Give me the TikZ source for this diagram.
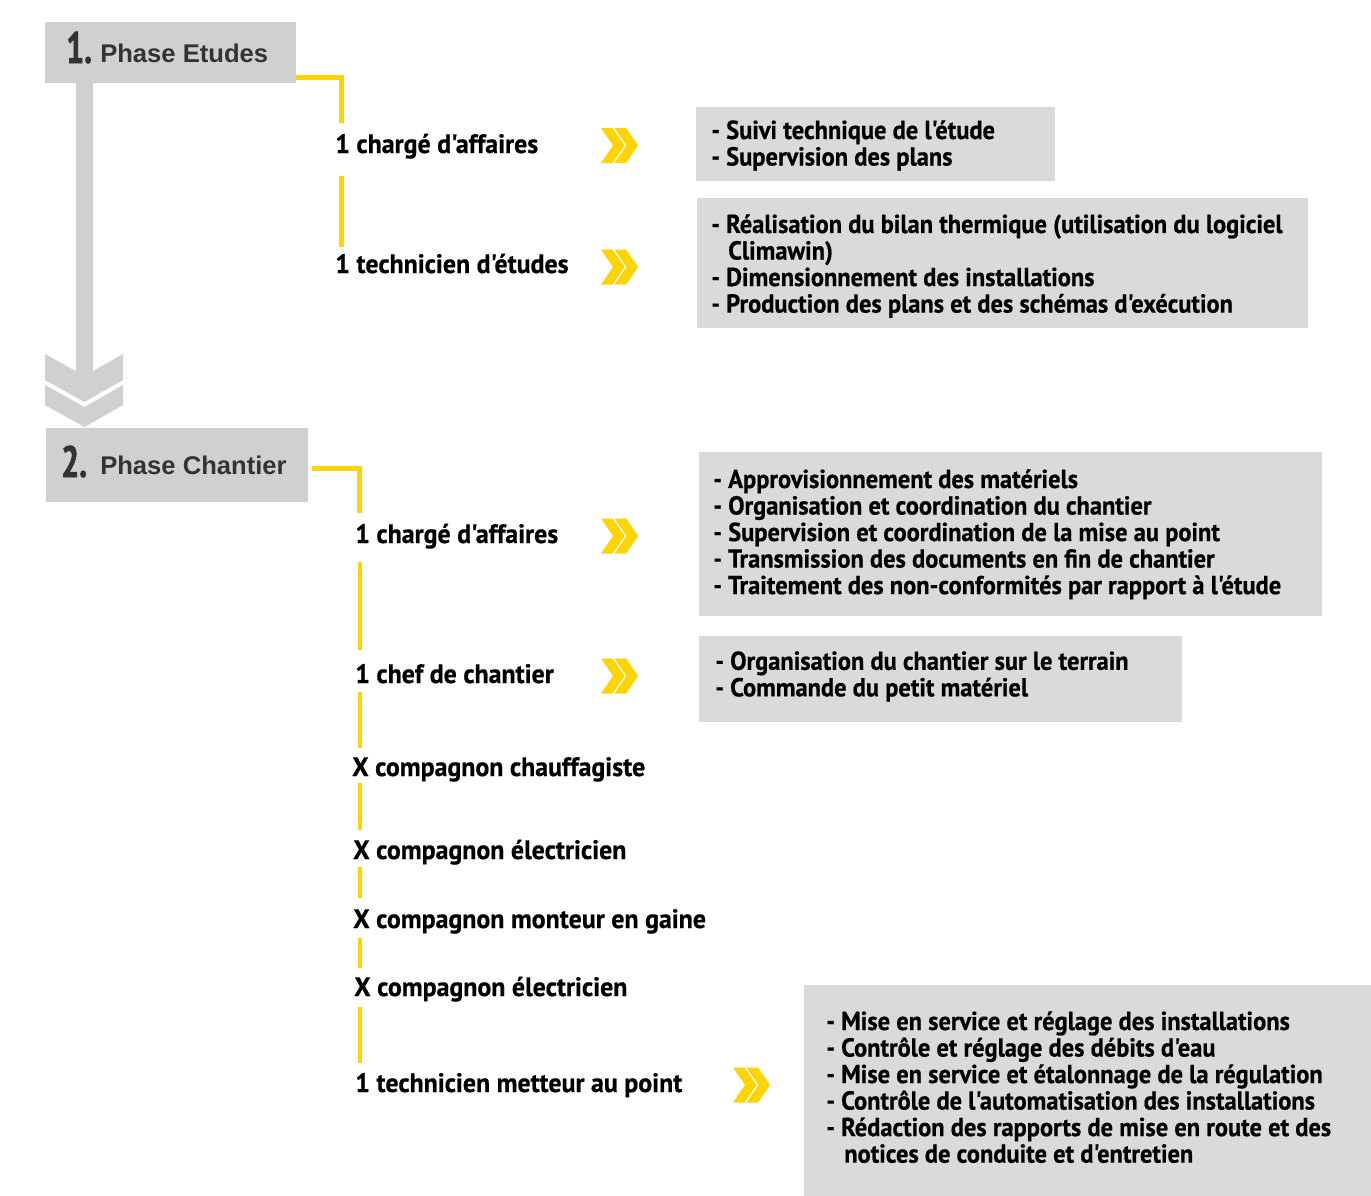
\documentclass[tikz,border=0pt]{standalone}
\usepackage{fontspec}
\setmainfont{Liberation Sans}
\newfontfamily\condf{PT Sans Bold}[FakeStretch=0.94,FakeBold=0.6]
\newfontfamily\lblf{PT Sans Bold}[FakeStretch=0.97,FakeBold=0.6]
\newfontfamily\numf{PT Sans Bold}[FakeStretch=0.72,FakeBold=1.5]
\definecolor{yel}{HTML}{FFD400}
\definecolor{hdr}{HTML}{D0D0D0}
\definecolor{bx}{HTML}{DADADA}
\definecolor{ink}{HTML}{333333}
\begin{document}
\begin{tikzpicture}[x=0.75pt,y=-0.75pt,
  hdrbox/.style={fill=hdr, inner sep=0, anchor=north west},
  infobox/.style={fill=bx, inner sep=0, anchor=north west},
  bignum/.style={font=\numf\fontsize{33}{33}\selectfont, text=ink, inner sep=0, anchor=base west},
  hdrtxt/.style={font=\bfseries\fontsize{19.2}{19.2}\selectfont, text=ink, inner sep=0, anchor=base west},
  lbl/.style={font=\lblf\fontsize{20}{20}\selectfont, text=black, inner sep=0, anchor=base west},
  txt/.style={font=\condf\fontsize{19.5}{19.9}\selectfont, text=black, inner sep=0, align=left, anchor=north west},
  yline/.style={draw=yel, line width=3.4pt},
  dchev/.pic={
    \fill[yel] (-18.5,-17.5)--(-7,-17.5)--(5,0)--(-7,17.5)--(-18.5,17.5)--(-6.5,0)--cycle;
    \fill[yel] (-5,-17.5)--(6.5,-17.5)--(18.5,0)--(6.5,17.5)--(-5,17.5)--(7,0)--cycle;
  }]
\useasboundingbox (0,0) rectangle (1371,1196);
\fill[white] (0,0) rectangle (1371,1196);

% headers
\node[hdrbox, minimum width=188.25pt, minimum height=45.75pt] (h1) at (45,22) {};
\node[bignum] (n1) at (66,63) {1.};
\node[hdrtxt] (t1) at (100,62) {Phase Etudes};
\node[hdrbox, minimum width=196.5pt, minimum height=55.5pt] (h2) at (46,428) {};
\node[bignum] (n2) at (61,477) {2.};
\node[hdrtxt] (t2) at (100,474) {Phase Chantier};

% big grey arrow from phase 1 to phase 2
\coordinate (bartop) at (84.5,83);
\coordinate (barbot) at (84.5,390);
\draw[hdr, line width=12.75pt] (bartop) -- (barbot);
\fill[hdr] (45,354)--(84.5,376)--(123,354)--(123,380)--(84.5,402)--(45,380)--cycle;
\fill[hdr] (45,385)--(84.5,407)--(123,385)--(123,405)--(84.5,427)--(45,405)--cycle;

% phase 1 roles
\node[lbl] (a1) at (335,153) {1 chargé d'affaires};
\node[lbl] (a2) at (335,273) {1 technicien d'études};
\coordinate (c1a) at (296,77.5);
\coordinate (c1b) at (341.5,77.5);
\coordinate (c1c) at (341.5,123);
\coordinate (c1d) at (341.5,176);
\coordinate (c1e) at (341.5,247);
\draw[yline] (c1a) -- (c1b) -- (c1c);
\draw[yline] (c1d) -- (c1e);
\pic at (619.5,145.5) {dchev};
\pic at (619.5,267) {dchev};

\node[infobox, minimum width=269.25pt, minimum height=55.5pt] (b1) at (696,107) {};
\node[txt] (x1) at (711,120) {- Suivi technique de l'étude\\- Supervision des plans};
\node[infobox, minimum width=458.25pt, minimum height=97.5pt] (b2) at (697,198) {};
\node[txt] (x2) at (711,214) {- Réalisation du bilan thermique (utilisation du logiciel\\\hspace*{12.75pt}Climawin)\\- Dimensionnement des installations\\- Production des plans et des schémas d'exécution};

% phase 2 roles
\node[lbl] (p1) at (355,543) {1 chargé d'affaires};
\node[lbl] (p2) at (355,683) {1 chef de chantier};
\node[lbl] (p3) at (352,776) {X compagnon chauffagiste};
\node[lbl] (p4) at (353,859) {X compagnon électricien};
\node[lbl] (p5) at (353,928) {X compagnon monteur en gaine};
\node[lbl] (p6) at (354,996) {X compagnon électricien};
\node[lbl] (p7) at (355,1092) {1 technicien metteur au point};
\coordinate (d1a) at (312,468.5);
\coordinate (d1b) at (359.5,468.5);
\coordinate (d1c) at (359.5,513);
\draw[yline] (d1a) -- (d1b) -- (d1c);
\coordinate (s1a) at (360,562); \coordinate (s1b) at (360,650);
\coordinate (s2a) at (360,692); \coordinate (s2b) at (360,748);
\coordinate (s3a) at (360,783); \coordinate (s3b) at (360,830);
\coordinate (s4a) at (360,867); \coordinate (s4b) at (360,898);
\coordinate (s5a) at (360,938); \coordinate (s5b) at (360,968);
\coordinate (s6a) at (360,1007); \coordinate (s6b) at (360,1063);
\draw[yline] (s1a) -- (s1b);
\draw[yline] (s2a) -- (s2b);
\draw[yline] (s3a) -- (s3b);
\draw[yline] (s4a) -- (s4b);
\draw[yline] (s5a) -- (s5b);
\draw[yline] (s6a) -- (s6b);
\pic at (619.5,536) {dchev};
\pic at (619.5,676) {dchev};
\pic at (751.5,1085) {dchev};

\node[infobox, minimum width=467.25pt, minimum height=123pt] (b3) at (699,452) {};
\node[txt] (x3) at (713,469) {- Approvisionnement des matériels\\- Organisation et coordination du chantier\\- Supervision et coordination de la mise au point\\- Transmission des documents en fin de chantier\\- Traitement des non-conformités par rapport à l'étude};
\node[infobox, minimum width=362.25pt, minimum height=64.5pt] (b4) at (699,636) {};
\node[txt] (x4) at (715,651) {- Organisation du chantier sur le terrain\\- Commande du petit matériel};
\node[infobox, minimum width=425.25pt, minimum height=158.25pt] (b5) at (804,985) {};
\node[txt] (x5) at (826,1011) {- Mise en service et réglage des installations\\- Contrôle et réglage des débits d'eau\\- Mise en service et étalonnage de la régulation\\- Contrôle de l'automatisation des installations\\- Rédaction des rapports de mise en route et des\\\hspace*{13.5pt}notices de conduite et d'entretien};
\end{tikzpicture}
\end{document}
